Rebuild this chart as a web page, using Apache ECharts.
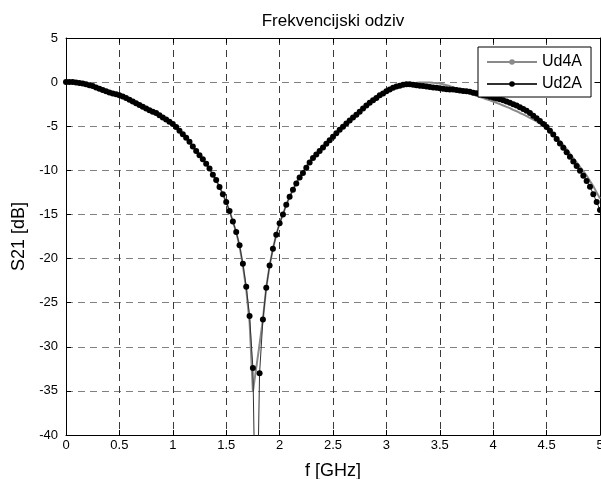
<!DOCTYPE html>
<html>
<head>
<meta charset="utf-8">
<script src="https://cdn.jsdelivr.net/npm/echarts@6/dist/echarts.min.js"></script>
<style>
html,body{margin:0;padding:0;background:#fff;overflow:hidden;}
#chart{width:601px;height:479px;}
</style>
</head>
<body>
<div id="chart"></div>
<script>
// Frequency grid (GHz): 161 samples, step 1/32 GHz
const freqStepGHz = 0.03125;
const sampleCount = 161;

// Ud2A (black dots) S21 [dB]
const ud2A = [
  0.0, 0.0, 0.0, -0.05, -0.1, -0.15, -0.25, -0.35, -0.45, -0.6,
  -0.75, -0.9, -1.05, -1.18, -1.28, -1.38, -1.48, -1.62, -1.8, -2.0,
  -2.2, -2.4, -2.6, -2.8, -3.0, -3.2, -3.35, -3.5, -3.75, -4.0,
  -4.25, -4.5, -4.75, -5.1, -5.5, -5.9, -6.3, -6.75, -7.3, -7.8,
  -8.3, -8.75, -9.25, -9.8, -10.5, -11.1, -11.9, -12.7, -13.6, -14.6,
  -15.8, -17.0, -18.5, -20.6, -23.2, -26.5, -32.4, -55.0, -33.0, -26.9,
  -23.3, -20.8, -18.9, -17.3, -16.0, -15.0, -13.9, -13.0, -12.2, -11.5,
  -10.8, -10.3, -9.7, -9.1, -8.6, -8.2, -7.8, -7.4, -7.0, -6.6,
  -6.2, -5.8, -5.4, -5.05, -4.7, -4.35, -4.0, -3.7, -3.35, -3.0,
  -2.65, -2.35, -2.05, -1.8, -1.5, -1.3, -1.05, -0.85, -0.65, -0.5,
  -0.4, -0.3, -0.25, -0.25, -0.3, -0.35, -0.4, -0.45, -0.5, -0.55,
  -0.6, -0.65, -0.7, -0.75, -0.8, -0.85, -0.85, -0.9, -0.95, -1.0,
  -1.05, -1.1, -1.2, -1.25, -1.35, -1.45, -1.55, -1.65, -1.75, -1.85,
  -1.95, -2.05, -2.2, -2.35, -2.5, -2.65, -2.85, -3.05, -3.25, -3.5,
  -3.8, -4.1, -4.4, -4.75, -5.1, -5.5, -5.95, -6.45, -6.95, -7.45,
  -7.95, -8.45, -9.0, -9.5, -10.05, -10.6, -11.2, -11.85, -12.7, -13.6,
  -14.5
];

// Ud4A (gray line) S21 [dB]
const ud4A = [
  0.0, 0.0, 0.0, -0.05, -0.1, -0.15, -0.25, -0.35, -0.45, -0.6,
  -0.75, -0.9, -1.05, -1.18, -1.28, -1.38, -1.48, -1.62, -1.8, -2.0,
  -2.2, -2.4, -2.6, -2.8, -3.0, -3.2, -3.35, -3.5, -3.75, -4.0,
  -4.25, -4.5, -4.75, -5.1, -5.5, -5.9, -6.3, -6.75, -7.3, -7.8,
  -8.3, -8.75, -9.25, -9.8, -10.5, -11.1, -11.9, -12.7, -13.6, -14.6,
  -15.8, -17.0, -18.6, -20.8, -23.5, -27.2, -35.1, -32.4, -29.7, -26.9,
  -23.3, -20.8, -18.9, -17.3, -16.0, -15.0, -13.9, -13.0, -12.2, -11.4,
  -10.7, -10.2, -9.6, -9.0, -8.5, -8.1, -7.7, -7.3, -6.9, -6.5,
  -6.1, -5.75, -5.4, -5.05, -4.7, -4.35, -4.0, -3.7, -3.35, -3.0,
  -2.65, -2.35, -2.05, -1.8, -1.5, -1.3, -1.05, -0.85, -0.65, -0.5,
  -0.35, -0.25, -0.2, -0.15, -0.1, -0.08, -0.05, -0.05, -0.05, -0.05,
  -0.08, -0.1, -0.15, -0.25, -0.35, -0.45, -0.6, -0.75, -0.9, -1.0,
  -1.15, -1.25, -1.4, -1.55, -1.7, -1.8, -1.95, -2.05, -2.2, -2.35,
  -2.5, -2.65, -2.8, -2.95, -3.15, -3.3, -3.5, -3.65, -3.85, -4.05,
  -4.25, -4.45, -4.7, -4.95, -5.3, -5.6, -6.0, -6.3, -6.7, -7.1,
  -7.6, -8.1, -8.6, -9.1, -9.6, -10.1, -10.6, -11.2, -11.8, -12.5,
  -13.2
];

const seriesNames = ['Ud4A', 'Ud2A'];
const titleText = 'Frekvencijski odziv';
const xAxisName = 'f [GHz]';
const yAxisName = 'S21 [dB]';

const freqs = [];
for (let i = 0; i < sampleCount; i++) freqs.push(+(i * freqStepGHz).toFixed(5));
const pairs = (vals) => freqs.map((f, i) => [f, vals[i]]);

const FONT = '"Liberation Sans", Arial, sans-serif';
const chart = echarts.init(document.getElementById('chart'), null, {renderer: 'canvas'});

const dashX = {type: [7, 5], color: '#3a3a3a', width: 1};
const dashY = {type: [7, 5], color: '#808080', width: 1};

chart.setOption({
  animation: false,
  backgroundColor: '#ffffff',
  textStyle: {fontFamily: FONT},
  graphic: [{
    type: 'text', x: 333, y: 13, z: 10,
    style: {text: titleText, textAlign: 'center', textVerticalAlign: 'top',
      fontFamily: FONT, fontSize: 17, fill: '#000'}
  }],
  grid: {left: 66, right: 1, top: 38, bottom: 44, containLabel: false,
         outerBoundsMode: 'none', show: false},
  legend: {
    data: seriesNames,
    orient: 'vertical',
    left: 478, top: 47,
    padding: [7, 9, 5, 8],
    itemGap: 6,
    itemWidth: 50,
    itemHeight: 7,
    backgroundColor: '#fff',
    borderColor: '#000',
    borderWidth: 1,
    borderRadius: 0,
    textStyle: {fontFamily: FONT, fontSize: 16, color: '#000', lineHeight: 16}
  },
  xAxis: [{
    type: 'value', min: 0, max: 5, interval: 0.5,
    name: xAxisName, nameLocation: 'middle', nameGap: 27,
    nameTextStyle: {fontFamily: FONT, fontSize: 18, color: '#000'},
    axisLine: {show: true, onZero: false, lineStyle: {color: '#000', width: 1}},
    axisTick: {show: true, inside: true, length: 5, lineStyle: {color: '#000'}},
    axisLabel: {fontFamily: FONT, fontSize: 13, color: '#000', margin: 4,
      formatter: v => String(+v.toFixed(1))},
    splitLine: {show: true, lineStyle: dashX}
  }, {
    type: 'value', min: 0, max: 5, interval: 0.5, position: 'top',
    axisLine: {show: true, onZero: false, lineStyle: {color: '#000', width: 1}},
    axisTick: {show: true, inside: true, length: 5, lineStyle: {color: '#000'}},
    axisLabel: {show: false}, splitLine: {show: false}
  }],
  yAxis: [{
    type: 'value', min: -40, max: 5, interval: 5,
    name: yAxisName, nameLocation: 'middle', nameGap: 31, nameRotate: 90,
    nameTextStyle: {fontFamily: FONT, fontSize: 18, color: '#000'},
    axisLine: {show: true, onZero: false, lineStyle: {color: '#000', width: 1}},
    axisTick: {show: true, inside: true, length: 5, lineStyle: {color: '#000'}},
    axisLabel: {fontFamily: FONT, fontSize: 13, color: '#000', margin: 8},
    splitLine: {show: true, lineStyle: dashY}
  }, {
    type: 'value', min: -40, max: 5, interval: 5, position: 'right',
    axisLine: {show: true, onZero: false, lineStyle: {color: '#000', width: 1}},
    axisTick: {show: true, inside: true, length: 5, lineStyle: {color: '#000'}},
    axisLabel: {show: false}, splitLine: {show: false}
  }],
  series: [{
    name: seriesNames[0],
    type: 'line',
    data: pairs(ud4A),
    xAxisIndex: 0, yAxisIndex: 0,
    symbol: 'circle', symbolSize: 5, showSymbol: false,
    itemStyle: {color: '#8a8a8a'},
    lineStyle: {color: '#8a8a8a', width: 2},
    clip: true, z: 2
  }, {
    name: seriesNames[1],
    type: 'line',
    data: pairs(ud2A),
    xAxisIndex: 0, yAxisIndex: 0,
    symbol: 'circle', symbolSize: 6, showSymbol: true,
    itemStyle: {color: '#000', borderWidth: 0},
    lineStyle: {color: '#303030', width: 1},
    clip: true, z: 3
  }]
});
</script>
</body>
</html>
